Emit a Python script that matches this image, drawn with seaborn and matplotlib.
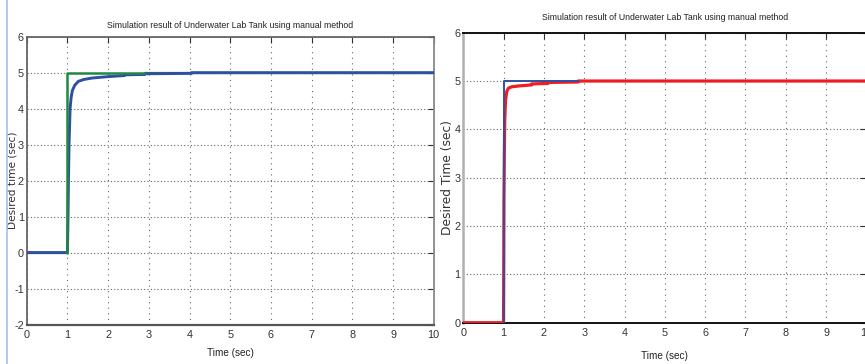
import numpy as np
import pandas as pd
import matplotlib
matplotlib.use("Agg")
import matplotlib.pyplot as plt
from matplotlib.lines import Line2D
from matplotlib import font_manager as fm
import seaborn as sns

# ---- data ----
title = "Simulation result of Underwater Lab Tank using manual method"

# left panel: reference step (green) and response (blue)
left_ref_t = [0, 1, 1, 2.9, 10]
left_ref_y = [0, 0, 5, 5, 5]
left_resp_t = [0, 1.0, 1.015, 1.025, 1.04, 1.065, 1.09, 1.12, 1.18, 1.27, 1.4, 1.6, 2.0, 2.4, 2.4, 2.9, 2.9, 4.05, 4.05, 10]
left_resp_y = [0, 0, 1.0, 2.0, 3.0, 4.0, 4.3, 4.5, 4.65, 4.76, 4.81, 4.85, 4.89, 4.92, 4.94, 4.95, 4.97, 4.98, 5.0, 5.0]

# right panel: reference step (blue) and response (red)
right_ref_t = [0, 1, 1, 2.85]
right_ref_y = [0, 0, 5, 5]
right_resp_t = [0, 1.0, 1.005, 1.01, 1.02, 1.03, 1.05, 1.08, 1.12, 1.2, 1.4, 1.7, 1.7, 2.1, 2.1, 2.85, 2.85, 10]
right_resp_y = [0, 0, 1.0, 2.5, 3.5, 4.2, 4.6, 4.78, 4.85, 4.88, 4.9, 4.92, 4.94, 4.95, 4.97, 4.98, 5.0, 5.0]

x_ticks = list(range(0, 11))
left_y_ticks = list(range(-2, 7))
right_y_ticks = list(range(0, 7))

sns.set_style("white")
plt.rcParams['axes.unicode_minus'] = False

# choose a narrow face if one is installed
names = {f.name for f in fm.fontManager.ttflist}
if 'Liberation Sans Narrow' in names:
    narrow_family = ['Liberation Sans Narrow', 'DejaVu Sans']
else:
    narrow_family = ['Liberation Sans', 'DejaVu Sans']
plt.rcParams['font.family'] = narrow_family

fig = plt.figure(figsize=(8.65, 3.64), dpi=100)
fig.patch.set_facecolor('white')

axL = fig.add_axes([0.0309, 0.1085, 0.4705, 0.7907])
axR = fig.add_axes([0.5355, 0.1135, 0.4662, 0.7967])

GREEN = '#1f8a3e'
BLUE = '#2f4fa3'
RED = '#f01c24'

def lp(ax, t, y, color, lw, z):
    df = pd.DataFrame({'t': t, 'y': y})
    sns.lineplot(data=df, x='t', y='y', estimator=None, sort=False,
                 color=color, linewidth=lw, ax=ax, zorder=z)

# left: green under blue at 0 and after 2.9, on top for the step edge
lp(axL, left_ref_t[:2], left_ref_y[:2], GREEN, 1.6, 3)
lp(axL, left_ref_t[3:], left_ref_y[3:], GREEN, 1.6, 3)
lp(axL, left_resp_t, left_resp_y, BLUE, 2.1, 4)
lp(axL, left_ref_t[1:4], left_ref_y[1:4], GREEN, 1.8, 5)

# right: red over blue at 0, blue step edge on top
lp(axR, right_ref_t[:2], right_ref_y[:2], BLUE, 1.4, 2)
lp(axR, right_resp_t, right_resp_y, RED, 2.3, 3)
lp(axR, right_ref_t[1:], right_ref_y[1:], BLUE, 1.4, 4)

def style(ax, yticks, ylim, spine_colors, spine_lw, ylabel, ylabel_size, title_pad, xlab_pad, ylab_x):
    ax.set_xlim(0, 10)
    ax.set_ylim(*ylim)
    ax.set_xticks(x_ticks)
    ax.set_yticks(yticks)
    ax.set_xticklabels([str(v) for v in x_ticks])
    ax.set_yticklabels([str(v) for v in yticks])
    ax.tick_params(direction='in', length=4, width=0.8, colors='#333333',
                   labelsize=7.8, top=True, right=True, pad=2.0)
    ax.tick_params(axis='x', pad=4)
    for side, c in spine_colors.items():
        ax.spines[side].set_visible(True)
        ax.spines[side].set_color(c)
        ax.spines[side].set_linewidth(spine_lw[side])
    ax.yaxis.grid(True, linestyle=(0, (1, 2)), color='#666666', linewidth=0.8)
    ax.xaxis.grid(True, linestyle=(0, (1, 4)), color='#666666', linewidth=0.8)
    ax.set_axisbelow(True)
    ax.set_title(title, fontsize=6.3, pad=title_pad, color='#222222')
    ax.set_xlabel("Time (sec)", fontsize=7.2, labelpad=xlab_pad, color='#222222')
    ax.set_ylabel(ylabel, fontsize=ylabel_size, family=['DejaVu Sans'],
                  color='#333333')
    ax.yaxis.set_label_coords(ylab_x, 0.5)

style(axL, left_y_ticks, (-2, 6),
      {'left': '#666666', 'right': '#888888', 'top': '#666666', 'bottom': '#555555'},
      {'left': 1.3, 'right': 1.3, 'top': 1.3, 'bottom': 1.6},
      "Desired time (sec)", 7.6, 6, 6, -0.0225)
style(axR, right_y_ticks, (0, 6),
      {'left': '#b0b0b0', 'right': '#222222', 'top': '#111111', 'bottom': '#111111'},
      {'left': 1.8, 'right': 1.3, 'top': 1.4, 'bottom': 1.4},
      "Desired Time (sec)", 8.8, 9, 9, -0.023)

# light blue screenshot border at far left
fig.add_artist(Line2D([6.5 / 865, 6.5 / 865], [0, 1], transform=fig.transFigure,
                      color='#9fc4e8', linewidth=1.2))

fig.savefig("out.png", dpi=100, facecolor='white')
